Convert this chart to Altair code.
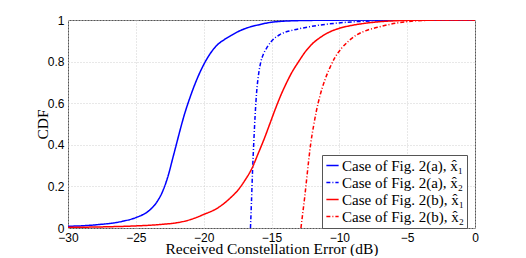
import altair as alt
import pandas as pd

# ---- data ----
series_names = [
    "Case of Fig. 2(a), x\u0302\u2081",
    "Case of Fig. 2(a), x\u0302\u2082",
    "Case of Fig. 2(b), x\u0302\u2081",
    "Case of Fig. 2(b), x\u0302\u2082",
]

a1_x = [-30, -28, -26, -25, -24, -23.5, -23, -22.6, -22.3, -22, -21.7, -21.4, -21.1, -20.8,
        -20.4, -20, -19.5, -19, -18.5, -18, -17.5, -16.8, -16, -14.9, -13, -10.7, -8, 0]
a1_y = [0.008, 0.015, 0.032, 0.05, 0.085, 0.12, 0.18, 0.255, 0.33, 0.405, 0.48, 0.55, 0.61, 0.665,
        0.73, 0.785, 0.84, 0.88, 0.905, 0.925, 0.943, 0.962, 0.976, 0.99, 0.997, 0.999, 1, 1]

a2_x = [-16.55, -16.48, -16.4, -16.3, -16.2, -16.1, -15.95, -15.8, -15.6, -15.36, -15.0, -14.38,
        -13.5, -12.66, -11.5, -10.2, -8.5, -7, -5, 0]
a2_y = [0, 0.12, 0.27, 0.42, 0.55, 0.65, 0.74, 0.795, 0.835, 0.865, 0.898, 0.93,
        0.95, 0.962, 0.975, 0.985, 0.993, 0.997, 0.999, 1]

b1_x = [-30, -27, -25, -23, -22, -21, -20, -19, -18.06, -17.5, -17, -16.39, -16, -15.5, -15.1,
        -14.7, -14.3, -13.9, -13.5, -13, -12.5, -12, -11.43, -10.7, -10, -9, -8, -7, -6, -4, 0]
b1_y = [0.003, 0.006, 0.01, 0.018, 0.025, 0.04, 0.065, 0.095, 0.143, 0.18, 0.225, 0.294, 0.355,
        0.435, 0.505, 0.575, 0.64, 0.697, 0.748, 0.80, 0.848, 0.885, 0.915, 0.943, 0.96, 0.975,
        0.985, 0.992, 0.996, 0.999, 1]

b2_x = [-12.83, -12.7, -12.55, -12.4, -12.25, -12.1, -11.9, -11.7, -11.43, -11.1, -10.7, -10.3,
        -9.84, -9.3, -8.73, -7.9, -7.0, -5.8, -4.5, -3, 0]
b2_y = [0, 0.07, 0.15, 0.24, 0.33, 0.41, 0.49, 0.56, 0.635, 0.705, 0.77, 0.822,
        0.864, 0.9, 0.928, 0.952, 0.968, 0.985, 0.995, 0.999, 1]

x_ticks = [-30, -25, -20, -15, -10, -5, 0]
y_ticks = [0, 0.2, 0.4, 0.6, 0.8, 1]

rows = []
for name, xs, ys in zip(series_names, [a1_x, a2_x, b1_x, b2_x], [a1_y, a2_y, b1_y, b2_y]):
    for xv, yv in zip(xs, ys):
        rows.append({"series": name, "x": xv, "y": yv})
df = pd.DataFrame(rows)

colors = ["#0000ff", "#0000ff", "#ff0000", "#ff0000"]
dashes = [[1, 0], [4, 2, 1, 2], [1, 0], [4, 2, 1, 2]]

chart = alt.Chart(df).mark_line(strokeWidth=1.5, interpolate="monotone", clip=True).encode(
    x=alt.X("x:Q", scale=alt.Scale(domain=[-30, 0], nice=False),
            axis=alt.Axis(values=x_ticks, title="Received Constellation Error (dB)",
                          titleBaseline="alphabetic", titleY=25.5)),
    y=alt.Y("y:Q", scale=alt.Scale(domain=[0, 1], nice=False),
            axis=alt.Axis(values=y_ticks, format="~g", title="CDF",
                          titleX=-26, titleBaseline="middle")),
    color=alt.Color("series:N", scale=alt.Scale(domain=series_names, range=colors),
                    legend=alt.Legend(title=None, orient="none", legendX=254, legendY=135)),
    strokeDash=alt.StrokeDash("series:N", scale=alt.Scale(domain=series_names, range=dashes),
                              legend=alt.Legend(title=None, orient="none", legendX=254, legendY=135)),
).properties(
    width=407, height=208,
    autosize=alt.AutoSizeParams(type="none"),
    padding={"left": 60, "top": 12, "right": 43, "bottom": 28},
).configure_view(
    stroke="#555555", strokeWidth=1
).configure_axis(
    domain=False,
    grid=True,
    gridColor="#d0d0d0",
    gridDash=[1, 2],
    gridWidth=1,
    ticks=False,
    labelFlush=False,
    labelOverlap=False,
    labelFont="Liberation Sans",
    labelFontSize=12,
    labelColor="#000000",
    labelPadding=4,
    titleFont="Liberation Serif",
    titleFontSize=15.5,
    titleFontWeight="normal",
    titleColor="#000000",
).configure_legend(
    strokeColor="#555555",
    fillColor="#ffffff",
    padding=3,
    symbolType="stroke",
    symbolSize=150,
    symbolStrokeWidth=1.5,
    labelFont="Liberation Serif",
    labelFontSize=15,
    labelColor="#000000",
    rowPadding=1,
    labelOffset=2,
    cornerRadius=0,
)

chart.save("out.html", embed_options={"renderer": "svg", "actions": False})
